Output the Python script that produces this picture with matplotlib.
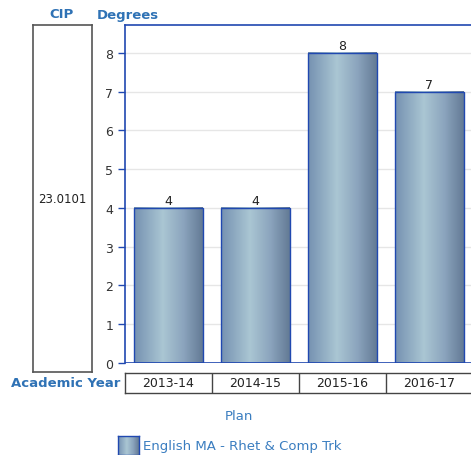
import numpy as np
import matplotlib
matplotlib.use("Agg")
import matplotlib.pyplot as plt
from matplotlib.colors import LinearSegmentedColormap

categories = ["2013-14", "2014-15", "2015-16", "2016-17"]
values = [4, 4, 8, 7]
cip_label = "23.0101"
series_name = "English MA - Rhet & Comp Trk"

W, H = 471, 456
fig = plt.figure(figsize=(W / 100, H / 100), dpi=100)
plt.rcParams['font.family'] = ['DejaVu Sans']

blue_title = "#2f72b5"
edge_blue = "#2048b0"
cmap = LinearSegmentedColormap.from_list(
    "barg", [(0, "#7591b1"), (0.42, "#aac6d3"), (0.72, "#8ba4bd"), (1.0, "#637a95")])
grad = np.linspace(0, 1, 256).reshape(1, -1)

def fx(px):
    return px / W

def fy(py):
    return 1 - py / H

# main axes
ax = fig.add_axes([fx(125), fy(364), fx(473) - fx(125), fy(26) - fy(364)])
bw = 0.79
x = np.arange(len(categories))
bars = ax.bar(x, values, width=bw, facecolor="none", edgecolor=edge_blue, linewidth=1.0, zorder=3)
for b, v in zip(bars, values):
    x0 = b.get_x()
    ax.imshow(grad, cmap=cmap, aspect="auto", extent=(x0, x0 + bw, 0, v), zorder=2,
              interpolation="bilinear")
    ax.text(x0 + bw / 2, v + 0.03, str(v), ha="center", va="bottom", fontsize=9, color="#222222")
ax.set_xlim(-0.5, len(categories) - 0.5)
ax.set_ylim(0, 8.72)
ax.set_yticks(range(0, 9))
ax.tick_params(axis="y", colors=edge_blue, labelcolor="#333333", labelsize=9, length=5, width=1)
ax.set_xticks([])
ax.grid(axis="y", color="#e6e6e6", linewidth=1, zorder=0)
ax.set_axisbelow(True)
for s in ["right", "bottom"]:
    ax.spines[s].set_visible(False)
for s in ["left", "top"]:
    ax.spines[s].set_color(edge_blue)
    ax.spines[s].set_linewidth(1.2)
ax.axhline(0, color=edge_blue, linewidth=1.2, zorder=4)

# CIP box
cax = fig.add_axes([fx(33), fy(373), fx(92) - fx(33), fy(26) - fy(373)])
cax.set_xticks([]); cax.set_yticks([])
for s in cax.spines.values():
    s.set_color("#555555"); s.set_linewidth(1.2)
cax.text(0.5, 0.5, cip_label, ha="center", va="center", fontsize=8.5, color="#222222",
         transform=cax.transAxes)

# table of categories
tax = fig.add_axes([fx(125), fy(394), fx(473) - fx(125), fy(374) - fy(394)])
tax.set_xlim(-0.5, len(categories) - 0.5)
tax.set_ylim(0, 1)
tax.set_xticks([]); tax.set_yticks([])
for s in tax.spines.values():
    s.set_color("#444444"); s.set_linewidth(1.0)
for i, c in enumerate(categories):
    if i > 0:
        tax.axvline(i - 0.5, color="#444444", linewidth=1.0)
    tax.text(i, 0.5, c, ha="center", va="center", fontsize=9, color="#222222")

# titles
fig.text(fx(62), fy(15), "CIP", ha="center", va="center", fontsize=9.5, fontweight="bold", color=blue_title)
fig.text(fx(97), fy(15), "Degrees", ha="left", va="center", fontsize=9.5, fontweight="bold", color=blue_title)
fig.text(fx(120), fy(384), "Academic Year", ha="right", va="center", fontsize=9.5, fontweight="bold", color=blue_title)
fig.text(fx(239), fy(417), "Plan", ha="center", va="center", fontsize=9.5, color="#3a7dc0")

# legend
lax = fig.add_axes([fx(118), fy(456), fx(139) - fx(118), fy(437) - fy(456)])
lax.imshow(grad, cmap=cmap, aspect="auto", extent=(0, 1, 0, 1), interpolation="bilinear")
lax.set_xticks([]); lax.set_yticks([])
for s in lax.spines.values():
    s.set_color(edge_blue); s.set_linewidth(1.0)
fig.text(fx(143), fy(447), series_name, ha="left", va="center", fontsize=9.5, color="#3a7dc0")

fig.savefig("out.png", dpi=100)
